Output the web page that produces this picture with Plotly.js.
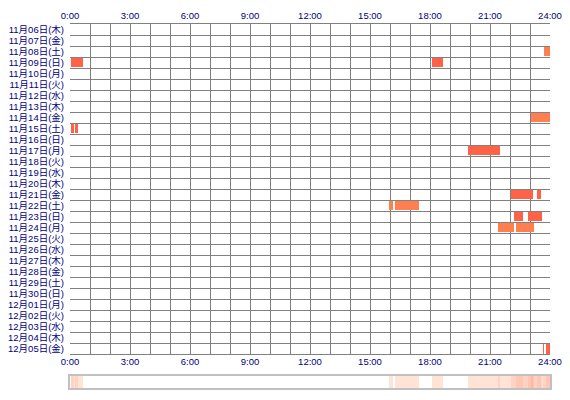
<!DOCTYPE html>
<html>
<head>
<meta charset="utf-8">
<script src="https://cdn.plot.ly/plotly-3.0.1.min.js"></script>
<style>html,body{margin:0;padding:0;background:#fff;}#chart{width:570px;height:400px;}</style>
</head>
<body>
<div id="chart"></div>
<script>
// Row labels (one per day)
const days = [
  '11月06日(木)','11月07日(金)','11月08日(土)','11月09日(日)','11月10日(月)',
  '11月11日(火)','11月12日(水)','11月13日(木)','11月14日(金)','11月15日(土)',
  '11月16日(日)','11月17日(月)','11月18日(火)','11月19日(水)','11月20日(木)',
  '11月21日(金)','11月22日(土)','11月23日(日)','11月24日(月)','11月25日(火)',
  '11月26日(水)','11月27日(木)','11月28日(金)','11月29日(土)','11月30日(日)',
  '12月01日(月)','12月02日(火)','12月03日(水)','12月04日(木)','12月05日(金)'
];

// Activity segments (hours of day)
const segDay = [
  '11月08日(土)','11月09日(日)','11月09日(日)','11月14日(金)','11月15日(土)','11月15日(土)',
  '11月17日(月)','11月21日(金)','11月21日(金)','11月22日(土)','11月22日(土)',
  '11月23日(日)','11月23日(日)','11月24日(月)','11月24日(月)','12月05日(金)','12月05日(金)'
];
const segStart = [23.68, 0.03, 18.10, 23.03, 0.05, 0.27, 19.90, 22.03, 23.35, 15.97, 16.25, 22.20, 22.90, 21.40, 22.30, 23.65, 23.80];
const segEnd   = [24.00, 0.63, 18.63, 24.00, 0.20, 0.40, 21.48, 23.13, 23.53, 16.13, 17.45, 22.63, 23.58, 22.18, 23.18, 23.72, 24.00];
const segKind  = ['B','A','A','B','A','A','A','A','A','B','B','A','A','B','B','A','A'];

// Axis ticks
const tickHours = [0, 3, 6, 9, 12, 15, 18, 21, 24];
const tickLabels = ['0:00','3:00','6:00','9:00','12:00','15:00','18:00','21:00','24:00'];

const kindColor = {A: '#ff6347', B: '#ff7f50'};
const gridCol = '#808080';
const labelFont = {family: '"Liberation Sans", "Noto Sans CJK JP", sans-serif', size: 9.5, color: '#000080'};

// Bars
const barTrace = {
  type: 'bar', orientation: 'h',
  y: segDay,
  base: segStart,
  x: segStart.map((s, i) => segEnd[i] - s),
  marker: {color: segKind.map(k => kindColor[k]), line: {width: 0}},
  width: 0.86,
  xaxis: 'x', yaxis: 'y',
  hoverinfo: 'skip', showlegend: false
};

// Summary strip: number of days active per minute of day, computed from the segments
const nBins = 1440;
const stripX = [], stripZ = [];
for (let i = 0; i < nBins; i++) {
  const t = (i + 0.5) / 60;
  stripX.push(t);
  let c = 0;
  for (let j = 0; j < segStart.length; j++) if (t >= segStart[j] && t < segEnd[j]) c++;
  stripZ.push(c);
}
const stripTrace = {
  type: 'heatmap', x: stripX, y: [0], z: [stripZ],
  zmin: 0, zmax: 4, zsmooth: false, showscale: false,
  colorscale: [[0, '#ffffff'], [0.001, '#ffe4d6'], [0.25, '#ffe4d6'], [0.5, '#ffd3c3'], [0.75, '#ffc6b6'], [1, '#ffb8a6']],
  xaxis: 'x2', yaxis: 'y2', hoverinfo: 'skip'
};

// Dummy trace so the bottom time axis is drawn
const dummy = {type: 'scatter', mode: 'markers', x: [0], y: [days[0]], xaxis: 'x3', yaxis: 'y',
  marker: {opacity: 0}, hoverinfo: 'skip', showlegend: false};

const layout = {
  width: 570, height: 400,
  margin: {l: 70, r: 20, t: 24, b: 12},
  paper_bgcolor: '#ffffff', plot_bgcolor: '#ffffff',
  showlegend: false, bargap: 0,
  xaxis: {
    domain: [0, 1], anchor: 'y', side: 'top', range: [0, 24], fixedrange: true,
    tickmode: 'array', tickvals: tickHours, ticktext: tickLabels, tickfont: labelFont,
    ticks: '', showgrid: true, gridcolor: gridCol, gridwidth: 1, zeroline: false,
    minor: {dtick: 1, tick0: 0, showgrid: true, gridcolor: gridCol, gridwidth: 1, ticks: ''},
    showline: true, mirror: true, linecolor: gridCol, linewidth: 1
  },
  xaxis3: {
    overlaying: 'x', anchor: 'y', side: 'bottom', range: [0, 24], fixedrange: true,
    tickmode: 'array', tickvals: tickHours, ticktext: tickLabels, tickfont: labelFont,
    ticks: '', showgrid: false, zeroline: false, showline: false
  },
  yaxis: {
    domain: [0.0926, 1], anchor: 'x', type: 'category', categoryorder: 'array', categoryarray: days,
    range: [days.length - 0.5, -0.5], fixedrange: true, tickson: 'boundaries',
    tickmode: 'array', tickvals: days, ticktext: days,
    tickfont: labelFont, ticks: '', showgrid: true, gridcolor: gridCol, gridwidth: 1,
    zeroline: false, showline: false, ticklabelstandoff: 5
  },
  xaxis2: {
    domain: [0, 1], anchor: 'y2', range: [0, 24], showticklabels: false, ticks: '',
    showgrid: false, zeroline: false, showline: true, mirror: true, linecolor: '#c0c0c0', linewidth: 2
  },
  yaxis2: {
    domain: [0, 0.033], anchor: 'x2', range: [-0.5, 0.5], showticklabels: false, ticks: '',
    showgrid: false, zeroline: false, showline: true, mirror: true, linecolor: '#c0c0c0', linewidth: 2
  }
};

Plotly.newPlot('chart', [stripTrace, barTrace, dummy], layout, {displayModeBar: false, staticPlot: true});
</script>
</body>
</html>
